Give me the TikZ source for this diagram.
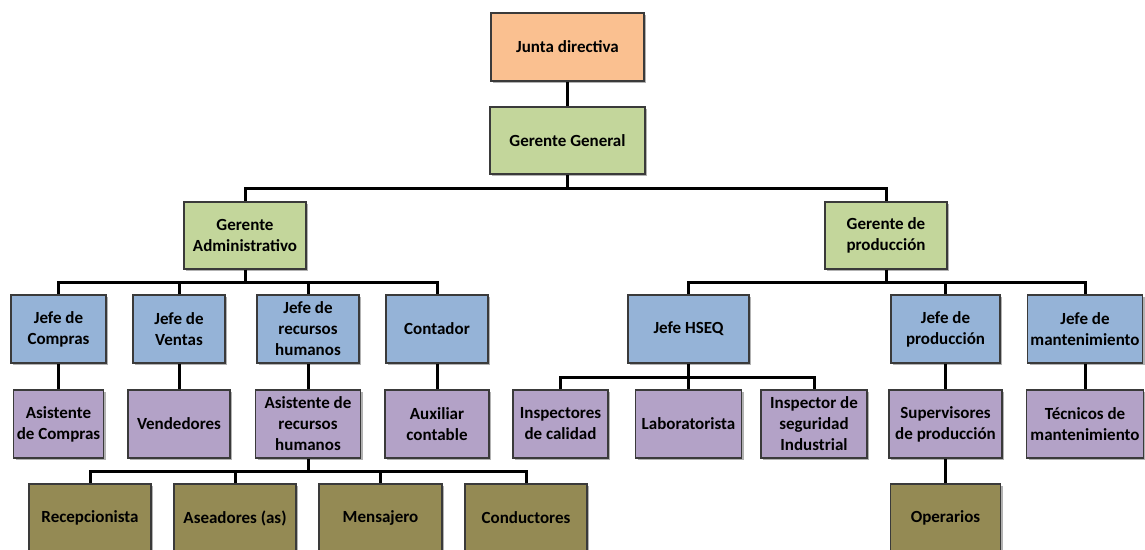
\documentclass[tikz,border=0pt]{standalone}
\usepackage{fontspec}
\setmainfont{Carlito}
\usepackage{xcolor}
\definecolor{juntaorange}{HTML}{FAC090}
\definecolor{gerentegreen}{HTML}{C3D69B}
\definecolor{jefeblue}{HTML}{95B3D7}
\definecolor{asistpurple}{HTML}{B3A2C7}
\definecolor{operolive}{HTML}{948A54}
\definecolor{boxborder}{HTML}{3A3A3A}
\usetikzlibrary{
    positioning,
    shadows
}
\tikzstyle{box} = [
    draw=boxborder,
    line width=1.6pt,
    align=center,
    inner sep=2pt,
    minimum height=68pt,
    font=\bfseries\fontsize{17}{21}\selectfont,
    drop shadow={shadow xshift=2pt, shadow yshift=-2pt, opacity=0.3, fill=black}
]
\tikzstyle{junta} = [box, fill=juntaorange]
\tikzstyle{gerente} = [box, fill=gerentegreen]
\tikzstyle{jefe} = [box, fill=jefeblue]
\tikzstyle{asistente} = [box, fill=asistpurple]
\tikzstyle{operativo} = [box, fill=operolive]
\tikzstyle{link} = [
    line width=3pt,
    black
]

\begin{document}
\begin{tikzpicture}[x=1pt, y=-1pt]

\useasboundingbox (0,0) rectangle (1145,549);
\clip (0,0) rectangle (1145,549);

% Direccion
\node[junta, minimum width=153pt] (junta) at (567.5,47) {Junta directiva};
\node[gerente, minimum width=155pt, minimum height=67pt] (gg) at (567.5,140.5) {Gerente General};

% Gerencias
\node[gerente, minimum width=122pt, minimum height=67pt] (ga) at (245,235.5) {Gerente\\Administrativo};
\node[gerente, minimum width=122pt, minimum height=67pt] (gp) at (886,235.5) {Gerente de\\producción};

% Jefes
\node[jefe, minimum width=95pt] (jcompras) at (58.5,329) {Jefe de\\Compras};
\node[jefe, minimum width=92pt] (jventas) at (179,329) {Jefe de\\Ventas};
\node[jefe, minimum width=102pt] (jrrhh) at (308,329) {Jefe de\\recursos\\humanos};
\node[jefe, minimum width=102pt] (contador) at (437,329) {Contador};
\node[jefe, minimum width=121pt] (jhseq) at (688.5,329) {Jefe HSEQ};
\node[jefe, minimum width=109pt] (jprod) at (945.5,329) {Jefe de\\producción};
\node[jefe, minimum width=115pt] (jmant) at (1085,329) {Jefe de\\mantenimiento};

% Asistentes
\node[asistente, minimum width=90pt] (acompras) at (58.5,424) {Asistente\\de Compras};
\node[asistente, minimum width=102pt] (vendedores) at (179,424) {Vendedores};
\node[asistente, minimum width=105pt] (arrhh) at (308,424) {Asistente de\\recursos\\humanos};
\node[asistente, minimum width=104pt] (auxiliar) at (437,424) {Auxiliar\\contable};
\node[asistente, minimum width=95pt] (inspectores) at (560.5,424) {Inspectores\\de calidad};
\node[asistente, minimum width=106pt] (laboratorista) at (688.5,424) {Laboratorista};
\node[asistente, minimum width=106pt] (inspseg) at (814,424) {Inspector de\\seguridad\\Industrial};
\node[asistente, minimum width=113pt] (supervisores) at (945.5,424) {Supervisores\\de producción};
\node[asistente, minimum width=117pt] (tecnicos) at (1085,424) {Técnicos de\\mantenimiento};

% Personal operativo
\node[operativo, minimum width=122pt] (recepcionista) at (90,518) {Recepcionista};
\node[operativo, minimum width=122pt] (aseadores) at (235,518) {Aseadores (as)};
\node[operativo, minimum width=123pt] (mensajero) at (380.5,518) {Mensajero};
\node[operativo, minimum width=122pt] (conductores) at (526,518) {Conductores};
\node[operativo, minimum width=110pt] (operarios) at (945.5,518) {Operarios};

% Lineas de mando
\coordinate (bus1) at (0,188);
\coordinate (bus2) at (0,282);
\coordinate (bus3) at (0,377);
\coordinate (bus4) at (0,471);

\draw[link] (junta.south) -- (gg.north);
\foreach \k in {ga,gp}
    \draw[link] (gg.south) -- (gg.south |- bus1) -| (\k.north);
\foreach \k in {jcompras,jventas,jrrhh,contador}
    \draw[link] (ga.south) -- (ga.south |- bus2) -| (\k.north);
\foreach \k in {jhseq,jprod,jmant}
    \draw[link] (gp.south) -- (gp.south |- bus2) -| (\k.north);
\foreach \k in {inspectores,laboratorista,inspseg}
    \draw[link] (jhseq.south) -- (jhseq.south |- bus3) -| (\k.north);
\foreach \k in {recepcionista,aseadores,mensajero,conductores}
    \draw[link] (arrhh.south) -- (arrhh.south |- bus4) -| (\k.north);

% Lineas directas
\draw[link] (jcompras.south) -- (acompras.north);
\draw[link] (jventas.south) -- (vendedores.north);
\draw[link] (jrrhh.south) -- (arrhh.north);
\draw[link] (contador.south) -- (auxiliar.north);
\draw[link] (jprod.south) -- (supervisores.north);
\draw[link] (jmant.south) -- (tecnicos.north);
\draw[link] (supervisores.south) -- (operarios.north);

\end{tikzpicture}
\end{document}
